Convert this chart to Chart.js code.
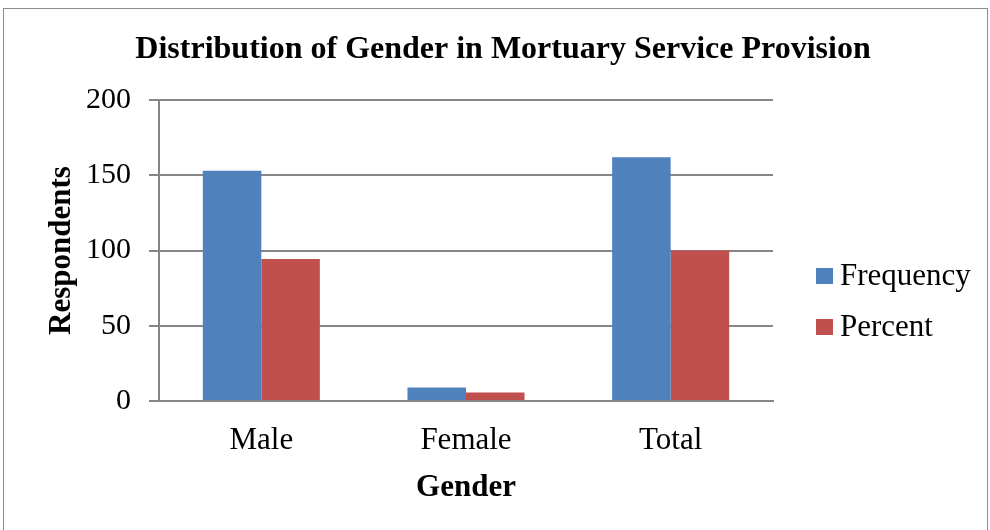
<!DOCTYPE html>
<html>
<head>
<meta charset="utf-8">
<script src="https://cdn.jsdelivr.net/npm/chart.js@4.4.0/dist/chart.umd.min.js"></script>
<style>
  body{margin:0;background:#fff;}
  #wrap{position:relative;width:990px;height:530px;}
  #frame{position:absolute;left:3px;top:8px;width:985px;height:530px;border:1px solid #8c8c8c;box-sizing:border-box;}
  canvas{position:absolute;left:0;top:0;}
</style>
</head>
<body>
<div id="wrap">
  <div id="frame"></div>
  <canvas id="chart" width="990" height="530"></canvas>
</div>
<script>
// ── data ────────────────────────────────────────────
const categories=['Male','Female','Total'];
const frequency=[153,9,162];
const percent=[94.4,5.6,100];
const yTicks=[0,50,100,150,200];

const SERIF='"Liberation Serif","Times New Roman",serif';
const GRID='#868686';

// legend drawn at the right, like the Excel one
const sideLegend={
  id:'sideLegend',
  afterDraw(chart){
    const ctx=chart.ctx;
    const rows=[276,327];
    ctx.save();
    ctx.font='31px '+SERIF;
    ctx.textBaseline='middle';
    chart.data.datasets.forEach((ds,i)=>{
      ctx.fillStyle=ds.backgroundColor;
      ctx.fillRect(816,rows[i]-8,17,16);
      ctx.fillStyle='#000';
      ctx.fillText(ds.label,840,rows[i]+1);
    });
    ctx.restore();
  }
};

new Chart(document.getElementById('chart'),{
  type:'bar',
  data:{labels:categories,datasets:[
    {label:'Frequency',data:frequency,backgroundColor:'#4F81BD',categoryPercentage:0.572,barPercentage:1},
    {label:'Percent',data:percent,backgroundColor:'#C0504D',categoryPercentage:0.572,barPercentage:1}
  ]},
  options:{
    responsive:false,animation:false,
    layout:{padding:{left:16,right:0,top:0,bottom:15}},
    plugins:{
      legend:{display:false},
      tooltip:{enabled:false},
      title:{display:true,text:'Distribution of Gender in Mortuary Service Provision',
        color:'#000',font:{family:SERIF,size:32,weight:'bold'},padding:{top:31,bottom:30.6},
        align:'center'}
    },
    scales:{
      x:{
        grid:{display:false},
        border:{display:true,color:GRID,width:2},
        ticks:{color:'#000',font:{family:SERIF,size:31},padding:13},
        title:{display:true,text:'Gender',color:'#000',font:{family:SERIF,size:31,weight:'bold'},padding:{top:0,bottom:8}},
        afterFit(s){s.height=114;}
      },
      y:{
        min:0,max:200,
        afterBuildTicks(s){s.ticks=yTicks.map(v=>({value:v}));},
        grid:{color:GRID,lineWidth:2,tickLength:10},
        border:{display:true,color:GRID,width:2},
        ticks:{color:'#000',font:{family:SERIF,size:30},padding:18},
        title:{display:true,text:'Respondents',color:'#000',font:{family:SERIF,size:31,weight:'bold'},padding:{top:27,bottom:0}},
        afterFit(s){s.width=143;}
      },
      // empty right-hand strip that leaves room for the legend
      side:{
        type:'linear',position:'right',display:true,
        grid:{display:false},border:{display:false},ticks:{display:false},
        afterFit(s){s.width=217;}
      }
    }
  },
  plugins:[sideLegend]
});
</script>
</body>
</html>
